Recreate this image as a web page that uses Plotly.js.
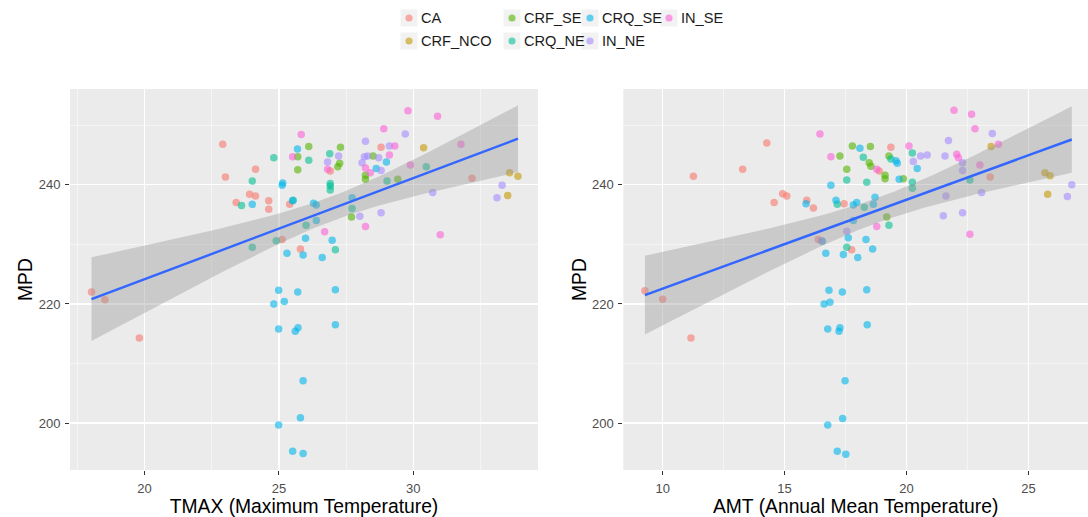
<!DOCTYPE html>
<html><head><meta charset="utf-8">
<script src="https://cdn.plot.ly/plotly-3.0.1.min.js"></script>
<style>body{margin:0;background:#fff}#chart{width:1088px;height:517px}</style>
</head><body><div id="chart"></div>
<script>
const groups = ["CA","CRF_NCO","CRF_SE","CRQ_NE","CRQ_SE","IN_NE","IN_SE"];
const colors = ["#F8766D","#C49A00","#53B400","#00C094","#00B6EB","#A58AFF","#FB61D7"];

// ---- Left panel: TMAX vs MPD ----
const tmax_CA = [18.03,18.53,19.81,22.91,23.01,24.13,23.91,24.13,23.41,24.62,24.62,25.40,25.12,25.80,26.91,28.80,32.18];
const mpdT_CA = [222.0,220.7,214.3,246.8,241.3,242.6,238.4,238.1,237.0,237.3,235.9,236.7,230.8,229.2,242.3,246.3,241.1];
const tmax_CRF_NCO = [30.38,33.58,33.89,33.51];
const mpdT_CRF_NCO = [246.2,242.0,241.4,238.2];
const tmax_CRF_SE = [25.70,25.70,26.11,27.29,27.26,27.19,28.50,28.22,28.22,29.42,27.70];
const mpdT_CRF_SE = [244.7,242.5,246.4,246.3,243.6,243.0,244.8,241.6,240.9,240.9,234.6];
const tmax_CRQ_NE = [24.81,24.01,23.61,24.90,24.01,26.11,26.89,26.91,26.91,26.91,26.01,27.10,29.02,30.48,25.53,27.72];
const mpdT_CRQ_NE = [244.5,240.6,236.5,230.6,229.5,244.1,245.2,240.2,239.8,239.1,233.2,229.1,240.6,243.0,237.4,236.0];
const tmax_CRQ_SE = [25.69,25.12,25.14,24.01,25.51,25.30,26.29,26.39,26.39,25.99,26.98,25.90,26.61,24.99,25.70,27.10,24.81,25.20,24.99,25.71,25.61,27.10,25.90,25.80,24.99,25.51,25.90,27.72,28.62,29.00];
const mpdT_CRQ_SE = [246.0,239.9,240.3,236.7,237.3,228.5,236.9,236.6,234.0,231.0,230.7,228.2,227.8,222.3,222.0,222.4,220.0,220.4,215.8,216.0,215.4,216.5,207.1,200.9,199.7,195.3,194.9,237.8,242.7,243.8];
const tmax_IN_NE = [27.22,26.81,28.01,28.80,28.22,28.18,28.30,28.09,28.71,28.80,29.11,29.70,30.72,33.30,33.11];
const mpdT_IN_NE = [244.8,243.8,234.7,235.3,247.3,244.7,244.8,243.7,244.5,242.4,246.5,248.5,238.7,239.9,237.8];
const tmax_IN_SE = [25.83,25.51,26.70,26.81,28.22,28.90,29.31,29.11,29.80,29.89,30.90,31.00,31.77,28.40,28.22];
const mpdT_IN_SE = [248.4,244.7,232.1,242.6,233.0,249.4,246.5,245.0,252.4,243.3,251.5,231.6,246.8,242.0,242.8];

// ---- Right panel: AMT vs MPD ----
const amt_CA = [9.27,10.00,11.16,11.26,13.28,14.27,14.92,15.09,14.57,15.91,16.18,16.38,17.44,17.75,18.88,19.36,23.43];
const mpdA_CA = [222.2,220.8,214.3,241.4,242.6,247.0,238.5,238.1,237.0,237.4,236.1,230.8,236.8,229.1,242.3,246.3,241.3];
const amt_CRF_NCO = [23.47,25.68,25.89,25.79];
const mpdA_CRF_NCO = [246.4,242.0,241.5,238.4];
const amt_CRF_SE = [17.27,17.78,18.52,19.28,18.47,18.54,17.55,19.12,19.12,19.87,19.19];
const mpdA_CRF_SE = [244.8,246.5,246.4,244.8,243.7,243.1,242.6,241.6,241.0,241.0,234.6];
const amt_CRQ_NE = [16.55,18.23,17.55,18.37,18.27,19.28,17.55,20.24,20.24,20.24,19.36,17.16,22.60];
const mpdA_CRQ_NE = [230.5,244.6,240.8,240.4,236.2,233.2,229.5,245.3,240.4,239.4,244.3,236.7,240.8];
const amt_CRQ_SE = [16.69,16.90,17.11,15.88,16.82,16.62,16.86,16.77,17.27,17.23,18.39,17.37,18.37,17.48,17.38,16.77,17.16,17.51,18.09,19.57,19.62,19.70,17.82,17.96,18.64,18.71,17.82,17.61,18.34,18.61,17.41,18.00,20.44];
const mpdA_CRQ_SE = [228.5,239.9,237.4,236.8,222.3,220.0,220.3,215.8,216.0,215.4,216.5,222.0,222.4,207.1,200.8,199.7,195.3,194.8,246.1,244.0,243.6,240.9,236.6,237.0,236.7,237.9,234.0,231.1,230.8,229.2,228.3,227.8,242.7];
const amt_IN_NE = [16.52,17.55,20.28,20.58,20.85,21.58,21.72,23.52,22.30,22.30,21.62,23.08,21.51,22.30,26.78,26.60];
const mpdA_IN_NE = [230.6,232.2,243.9,244.8,245.0,244.8,247.4,248.6,243.7,242.4,238.1,238.7,234.8,235.3,240.0,238.0];
const amt_IN_SE = [16.45,16.90,18.78,18.78,20.10,21.95,22.67,22.81,23.77,22.06,22.13,23.01,22.60];
const mpdA_IN_SE = [248.5,244.7,242.6,233.0,246.5,252.5,251.8,249.4,246.8,245.1,244.5,243.3,231.7];

const xTitleL = "TMAX (Maximum Temperature)";
const xTitleR = "AMT (Annual Mean Temperature)";
const yTitle = "MPD";

const leftX = [tmax_CA,tmax_CRF_NCO,tmax_CRF_SE,tmax_CRQ_NE,tmax_CRQ_SE,tmax_IN_NE,tmax_IN_SE];
const leftY = [mpdT_CA,mpdT_CRF_NCO,mpdT_CRF_SE,mpdT_CRQ_NE,mpdT_CRQ_SE,mpdT_IN_NE,mpdT_IN_SE];
const rightX = [amt_CA,amt_CRF_NCO,amt_CRF_SE,amt_CRQ_NE,amt_CRQ_SE,amt_IN_NE,amt_IN_SE];
const rightY = [mpdA_CA,mpdA_CRF_NCO,mpdA_CRF_SE,mpdA_CRQ_NE,mpdA_CRQ_SE,mpdA_IN_NE,mpdA_IN_SE];

const W = 1088, H = 517;
const FONT = '"Liberation Sans", Arial, sans-serif';

function rgba(hex, a){
  const n = parseInt(hex.slice(1),16);
  return `rgba(${(n>>16)&255},${(n>>8)&255},${n&255},${a})`;
}
function tq(df){ // 97.5% t quantile approximation
  const z = 1.959964;
  return z + (z*z*z+z)/(4*df) + (5*Math.pow(z,5)+16*z*z*z+3*z)/(96*df*df);
}
function lmFit(xsArr, ysArr){
  const xs = [].concat(...xsArr), ys = [].concat(...ysArr);
  const n = xs.length;
  const mx = xs.reduce((a,b)=>a+b,0)/n, my = ys.reduce((a,b)=>a+b,0)/n;
  let sxx=0, sxy=0;
  for(let i=0;i<n;i++){ sxx += (xs[i]-mx)**2; sxy += (xs[i]-mx)*(ys[i]-my); }
  const b = sxy/sxx, a = my - b*mx;
  let rss = 0;
  for(let i=0;i<n;i++){ rss += (ys[i]-a-b*xs[i])**2; }
  const s = Math.sqrt(rss/(n-2)), t = tq(n-2);
  const xmin = Math.min(...xs), xmax = Math.max(...xs);
  const gx=[], gy=[], lo=[], hi=[];
  const m = 80;
  for(let k=0;k<=m;k++){
    const x = xmin + (xmax-xmin)*k/m;
    const y = a + b*x;
    const hw = t*s*Math.sqrt(1/n + (x-mx)**2/sxx);
    gx.push(x); gy.push(y); lo.push(y-hw); hi.push(y+hw);
  }
  return {gx, gy, lo, hi};
}

const traces = [];
function addPanel(X, Y, xa, ya){
  groups.forEach((g,i)=>{
    traces.push({type:'scatter', mode:'markers', name:g, x:X[i], y:Y[i], xaxis:xa, yaxis:ya,
      showlegend:false, hoverinfo:'x+y+name',
      marker:{color:rgba(colors[i],0.6), size:7.5, line:{width:0}}});
  });
  const f = lmFit(X, Y);
  traces.push({type:'scatter', mode:'lines', x:f.gx.concat(f.gx.slice().reverse()),
    y:f.hi.concat(f.lo.slice().reverse()), fill:'toself', fillcolor:'rgba(153,153,153,0.4)',
    line:{width:0}, xaxis:xa, yaxis:ya, showlegend:false, hoverinfo:'skip'});
  traces.push({type:'scatter', mode:'lines', x:f.gx, y:f.gy, line:{color:'#3366FF', width:2.4},
    xaxis:xa, yaxis:ya, showlegend:false, hoverinfo:'skip'});
}
addPanel(leftX, leftY, 'x', 'y');
addPanel(rightX, rightY, 'x2', 'y2');

const yDom = [1-470/H, 1-89/H];
function xAxis(dom, range, title, anchor){
  return {domain:dom, range:range, anchor:anchor, tickmode:'linear', tick0:0, dtick:5,
    showgrid:true, gridcolor:'#FFFFFF', gridwidth:1.4, zeroline:false, showline:false,
    minor:{tickmode:'linear', tick0:2.5, dtick:5, showgrid:true, gridcolor:'#FAFAFA', gridwidth:0.7, ticks:''},
    ticks:'outside', ticklen:4, tickcolor:'#333333', tickwidth:1, ticklabelstandoff:2,
    tickfont:{family:FONT, size:13, color:'#4D4D4D'},
    title:{text:title, font:{family:FONT, size:19.3, color:'#000000'}, standoff:5}};
}
function yAxis(range, anchor){
  return {domain:yDom, range:range, anchor:anchor, tickmode:'linear', tick0:0, dtick:20,
    showgrid:true, gridcolor:'#FFFFFF', gridwidth:1.4, zeroline:false, showline:false,
    minor:{tickmode:'linear', tick0:10, dtick:20, showgrid:true, gridcolor:'#FAFAFA', gridwidth:0.7, ticks:''},
    ticks:'outside', ticklen:4, tickcolor:'#333333', tickwidth:1, ticklabelstandoff:2,
    tickfont:{family:FONT, size:13, color:'#4D4D4D'},
    title:{text:yTitle, font:{family:FONT, size:19.3, color:'#000000'}, standoff:0}};
}

// legend drawn as shapes + annotations (ggplot-like 2-row, column-filled)
const legCols = [409, 512, 590, 669];
const legRows = [18, 41];
const shapes = [], annotations = [];
groups.forEach((g,i)=>{
  const cx = legCols[Math.floor(i/2)], cy = legRows[i%2];
  shapes.push({type:'rect', xref:'paper', yref:'paper', layer:'below',
    x0:(cx-8.5)/W, x1:(cx+8.5)/W, y0:1-(cy+8.5)/H, y1:1-(cy-8.5)/H,
    fillcolor:'#F2F2F2', line:{width:0}});
  shapes.push({type:'circle', xref:'paper', yref:'paper',
    x0:(cx-3.6)/W, x1:(cx+3.6)/W, y0:1-(cy+3.6)/H, y1:1-(cy-3.6)/H,
    fillcolor:rgba(colors[i],0.6), line:{width:0}});
  annotations.push({xref:'paper', yref:'paper', x:(cx+11)/W, y:1-cy/H, xanchor:'left', yanchor:'middle',
    text:g, showarrow:false, borderpad:0, font:{family:FONT, size:14.6, color:'#1A1A1A'}});
});

const layout = {
  width:W, height:H, margin:{l:0,r:0,t:0,b:0}, paper_bgcolor:'#FFFFFF', plot_bgcolor:'#EBEBEB',
  font:{family:FONT},
  xaxis: xAxis([70/W, 538/W], [17.23, 34.636], xTitleL, 'y'),
  yaxis: yAxis([192.15, 256.05], 'x'),
  xaxis2: xAxis([623.3/W, 1], [8.384, 27.445], xTitleR, 'y2'),
  yaxis2: yAxis([192.15, 256.05], 'x2'),
  shapes: shapes, annotations: annotations, showlegend:false
};
Plotly.newPlot('chart', traces, layout, {displayModeBar:false, staticPlot:true});
</script></body></html>
